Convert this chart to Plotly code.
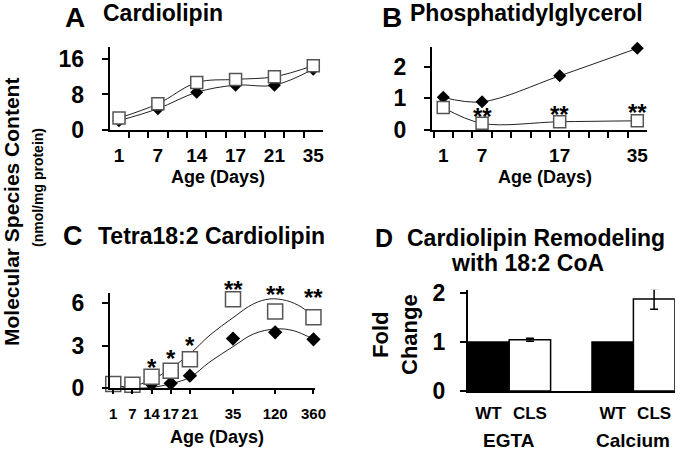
import plotly.graph_objects as go

# ---------------- data ----------------
days_ab = ['1', '7', '14', '17', '21', '35']

# Panel A: Cardiolipin
a_open = [2.7, 5.9, 10.7, 11.4, 12.0, 14.5]
a_filled = [2.1, 4.8, 8.5, 10.1, 10.1, 13.7]
a_filled_err = [0.5, 0, 1.0, 0, 0, 0.4]

# Panel B: Phosphatidylglycerol
days_b = ['1', '7', '17', '35']
b_filled = [1.03, 0.89, 1.71, 2.58]
b_open = [0.71, 0.21, 0.26, 0.29]
b_sig = ['**', '**', '**']
b_sig_days = ['7', '17', '35']
b_sig_y = [0.58, 0.65, 0.72]

# Panel C: Tetra18:2 Cardiolipin
days_c = ['1', '7', '14', '17', '21', '35', '120', '360']
c_xpos = [0, 1, 2, 3, 4, 6.25, 8.45, 10.45]   # axis placement of the day labels
c_open = [0.30, 0.25, 0.82, 1.24, 2.04, 6.27, 5.40, 5.00]
c_filled = [0.20, 0.20, 0.30, 0.35, 0.89, 3.50, 3.94, 3.45]
# fitted trend curves
c_fit_open_x = [0, 0.52, 1, 2, 3, 4, 5.05, 6.25, 7.31, 8.18, 9.05, 9.84, 10.45]
c_fit_open_y = [0.30, 0.11, 0.16, 0.58, 1.41, 2.42, 3.75, 4.97, 5.94, 6.29, 6.17, 5.70, 5.00]
c_fit_filled_x = [0, 1, 2, 3, 4, 5.05, 6.25, 7.31, 8.45, 9.4, 10.45]
c_fit_filled_y = [0.20, 0.02, 0.06, 0.32, 0.77, 1.87, 2.93, 3.82, 4.18, 4.06, 3.45]
c_sig = ['*', '*', '*', '**', '**', '**']
c_sig_days = ['14', '17', '21', '35', '120', '360']
c_sig_y = [1.76, 2.35, 3.28, 7.27, 6.92, 6.64]

# Panel D: Cardiolipin remodeling
d_groups = ['EGTA', 'Calcium']
d_genotypes = ['WT', 'CLS']
d_wt = [1.0, 1.0]
d_cls = [1.05, 1.88]
d_cls_err = [0.03, 0.21]

# ---------------- figure ----------------
W, H = 680, 450
def xd(a, b):
    return [a / W, b / W]
def yd(top, bottom):
    return [1 - bottom / H, 1 - top / H]

FONT = 'Liberation Sans, Arial, sans-serif'
NARROW = 'Liberation Sans Narrow, Arial Narrow, Liberation Sans, Arial, sans-serif'
LINE = '#222222'
SQ = '#555555'

fig = go.Figure()

# ---- Panel A ----
ax_a = [days_ab.index(d) for d in days_ab]
fig.add_trace(go.Scatter(x=ax_a, y=a_filled, mode='lines+markers', cliponaxis=False,
                         line=dict(color=LINE, width=1, shape='spline', smoothing=1),
                         marker=dict(symbol='diamond', size=10, color='black'),
                         error_y=dict(type='data', array=a_filled_err, color='black', thickness=1, width=0),
                         xaxis='x', yaxis='y'))
fig.add_trace(go.Scatter(x=ax_a, y=a_open, mode='lines+markers', cliponaxis=False,
                         line=dict(color=LINE, width=1, shape='spline', smoothing=1),
                         marker=dict(symbol='square', size=12, color='white', line=dict(color=SQ, width=1.5)),
                         xaxis='x', yaxis='y'))

# ---- Panel B ----
bx = [days_ab.index(d) for d in days_b]
fig.add_trace(go.Scatter(x=bx, y=b_filled, mode='lines+markers', cliponaxis=False,
                         line=dict(color=LINE, width=1, shape='spline', smoothing=1),
                         marker=dict(symbol='diamond', size=10, color='black'),
                         xaxis='x2', yaxis='y2'))
fig.add_trace(go.Scatter(x=bx, y=b_open, mode='lines+markers', cliponaxis=False,
                         line=dict(color=LINE, width=1, shape='spline', smoothing=1),
                         marker=dict(symbol='square', size=12, color='white', line=dict(color=SQ, width=1.5)),
                         xaxis='x2', yaxis='y2'))

# ---- Panel C ----
fig.add_trace(go.Scatter(x=c_fit_open_x, y=c_fit_open_y, mode='lines', cliponaxis=False,
                         line=dict(color=LINE, width=1, shape='spline', smoothing=1),
                         xaxis='x3', yaxis='y3'))
fig.add_trace(go.Scatter(x=c_fit_filled_x, y=c_fit_filled_y, mode='lines', cliponaxis=False,
                         line=dict(color=LINE, width=1, shape='spline', smoothing=1),
                         xaxis='x3', yaxis='y3'))
fig.add_trace(go.Scatter(x=c_xpos, y=c_filled, mode='markers', cliponaxis=False,
                         marker=dict(symbol='diamond', size=11, color='black'),
                         xaxis='x3', yaxis='y3'))
fig.add_trace(go.Scatter(x=c_xpos, y=c_open, mode='markers', cliponaxis=False,
                         marker=dict(symbol='square', size=15, color='white', line=dict(color=SQ, width=1.5)),
                         xaxis='x3', yaxis='y3'))

# ---- Panel D ----
d_x_wt = [0, 3]
d_x_cls = [1, 4]
fig.add_trace(go.Bar(x=d_x_wt, y=d_wt, width=1, cliponaxis=False,
                     marker=dict(color='black', line=dict(color='black', width=1.5)),
                     xaxis='x4', yaxis='y4'))
fig.add_trace(go.Bar(x=d_x_cls, y=d_cls, width=1, cliponaxis=False,
                     marker=dict(color='white', line=dict(color='black', width=1.5)),
                     error_y=dict(type='data', array=d_cls_err, color='black', thickness=1.5, width=4),
                     xaxis='x4', yaxis='y4'))

axis_common = dict(showline=True, linecolor='black', linewidth=2, showgrid=False, zeroline=False,
                   tickcolor='black', tickwidth=2, automargin=False, tickangle=0)
ytick_font = dict(family=FONT, size=23, color='black', weight='bold')
xtick_font = dict(family=NARROW, size=19, color='black', weight='bold')
xtick_font_c = dict(family=NARROW, size=15, color='black', weight='bold')

half_ticks = [-0.25 + 0.5 * k for k in range(12)]

C_DOM = yd(292.7, 388.3)
C_YMAX = 6.73

fig.update_layout(
    width=W, height=H, margin=dict(l=0, r=0, t=0, b=0, autoexpand=False),
    paper_bgcolor='white', plot_bgcolor='white', showlegend=False, barmode='overlay',
    xaxis=dict(domain=xd(109.7, 322.6), range=[-0.24, 5.24], anchor='y',
               tickvals=ax_a, ticktext=days_ab, ticks='', tickfont=xtick_font, ticklabelstandoff=7,
               minor=dict(tickmode='array', tickvals=half_ticks, ticks='outside', ticklen=6,
                          tickwidth=2, tickcolor='black'),
               **axis_common),
    yaxis=dict(domain=yd(47, 130), range=[0, 18.7], anchor='x',
               tickvals=[0, 8, 16], ticks='outside', ticklen=6, tickfont=ytick_font, ticklabelstandoff=13,
               **axis_common),
    xaxis2=dict(domain=xd(432, 646.6), range=[-0.29, 5.24], anchor='y2',
                tickvals=bx, ticktext=days_b, ticks='', tickfont=xtick_font, ticklabelstandoff=7,
                minor=dict(tickmode='array', tickvals=half_ticks, ticks='outside', ticklen=6,
                           tickwidth=2, tickcolor='black'),
                **axis_common),
    yaxis2=dict(domain=yd(47, 130), range=[0, 2.62], anchor='x2',
                tickvals=[0, 1, 2], ticks='outside', ticklen=6, tickfont=ytick_font, ticklabelstandoff=13,
                **axis_common),
    xaxis3=dict(domain=xd(110, 315), range=[-0.17, 10.53], anchor='y3',
                tickvals=c_xpos, ticktext=days_c, ticks='outside', ticklen=4, tickfont=xtick_font_c,
                ticklabelstandoff=7, **axis_common),
    yaxis3=dict(domain=C_DOM, range=[0, C_YMAX], anchor='x3',
                tickvals=[0, 3, 6], ticks='outside', ticklen=6, tickfont=ytick_font, ticklabelstandoff=13,
                **axis_common),
    xaxis4=dict(domain=xd(467.8, 674.8), range=[-0.5, 4.5], anchor='y4',
                tickvals=d_x_wt + d_x_cls, ticktext=[d_genotypes[0]] * 2 + [d_genotypes[1]] * 2,
                ticks='', tickfont=dict(family=FONT, size=17, color='black', weight='bold'),
                ticklabelstandoff=6, **axis_common),
    yaxis4=dict(domain=yd(289.8, 391), range=[0, 2.07], anchor='x4',
                tickvals=[0, 1, 2], ticks='outside', ticklen=6, tickfont=ytick_font, ticklabelstandoff=10,
                **axis_common),
)

ann = []
def bold(size):
    return dict(family=FONT, size=size, color='black', weight='bold')

def add_text(text, px, py, size, xanchor='center', angle=0, yanchor='middle'):
    ann.append(dict(text=text, x=px / W, y=1 - py / H, xref='paper', yref='paper',
                    xanchor=xanchor, yanchor=yanchor, showarrow=False, font=bold(size), textangle=angle))

# panel letters and titles
add_text('A', 75, 0, 28, yanchor='top')
add_text('Cardiolipin', 101, 13, 23, 'left')
add_text('B', 392, 0, 28, yanchor='top')
add_text('Phosphatidylglycerol', 408, 13, 23, 'left')
add_text('C', 72.5, 236, 27)
add_text('Tetra18:2 Cardiolipin', 96, 236, 23, 'left')
add_text('D', 384, 238, 25)
add_text('Cardiolipin Remodeling', 405, 238, 23, 'left')
add_text('with 18:2 CoA', 527, 263, 23)

# axis titles
add_text('Age (Days)', 218, 177, 18)
add_text('Age (Days)', 545, 177, 18)
add_text('Age (Days)', 217, 437, 18)
add_text('Molecular Species Content', 12, 212, 21, angle=-90)
add_text('(nmol/mg protein)', 38, 188, 14, angle=-90)
add_text('Fold<br>Change', 395, 335, 22, angle=-90)

# group labels panel D
for g, gx in zip(d_groups, [0.5, 3.5]):
    ann.append(dict(text=g, x=gx, y=1 - 440 / H, xref='x4', yref='paper', xanchor='center',
                    yanchor='middle', showarrow=False, font=bold(19)))

# significance marks
for s, d, yv in zip(b_sig, b_sig_days, b_sig_y):
    ann.append(dict(text=s, x=days_ab.index(d), y=yv, xref='x2', yref='y2', xanchor='center',
                    yanchor='middle', yshift=-5, showarrow=False, font=bold(24)))
for s, d, yv in zip(c_sig, c_sig_days, c_sig_y):
    # paper-referenced vertically so marks above the axis range stay visible
    py = C_DOM[0] + (C_DOM[1] - C_DOM[0]) * yv / C_YMAX
    ann.append(dict(text=s, x=c_xpos[days_c.index(d)], y=py, xref='x3', yref='paper', xanchor='center',
                    yanchor='middle', yshift=-4, showarrow=False, font=bold(24)))

fig.update_layout(annotations=ann)
fig.write_html('out.html', config={'displayModeBar': False},
               post_script="document.body.style.margin='0';document.body.style.padding='0';")
